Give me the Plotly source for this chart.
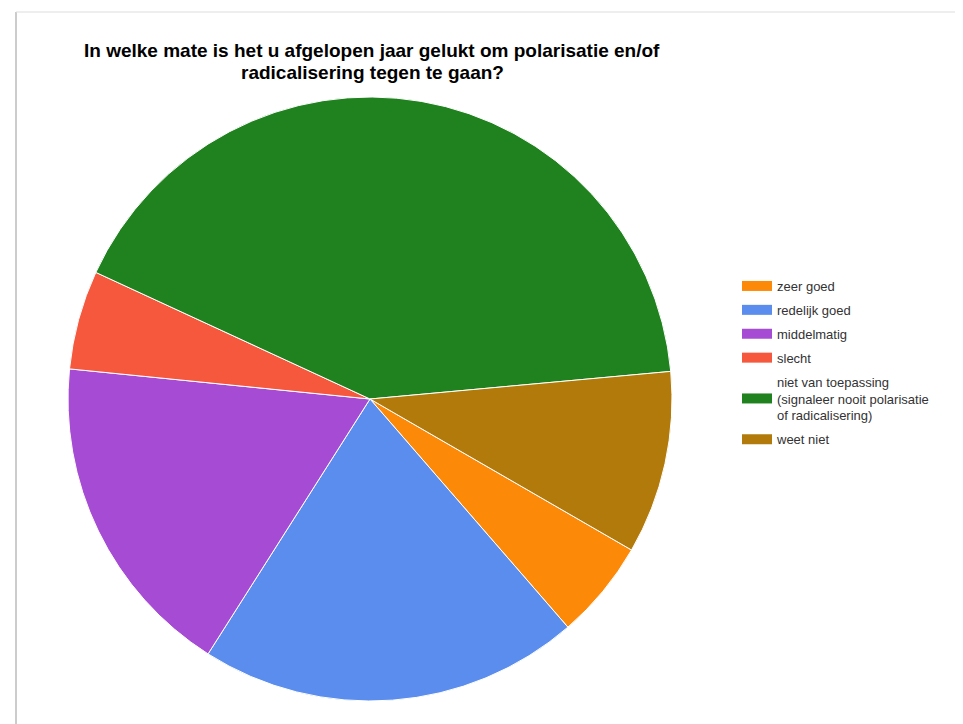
import plotly.graph_objects as go

labels = ["zeer goed", "redelijk goed", "middelmatig", "slecht",
          "niet van toepassing<br>(signaleer nooit polarisatie<br>of radicalisering)", "weet niet"]
values = [5.3, 20.4, 17.6, 5.3, 41.7, 9.8]
colors = ["#fc8a08", "#5a8ded", "#a64cd4", "#f6583e", "#1f821f", "#b17a0a"]
title_lines = ["In welke mate is het u afgelopen jaar gelukt om polarisatie en/of",
               "radicalisering tegen te gaan?"]

W, H = 963, 724
cx, cy, r = 362, 391, 302

fig = go.Figure()
fig.add_trace(go.Pie(
    labels=labels, values=values, sort=False, direction="clockwise",
    rotation=120, textinfo="none", hoverinfo="label+percent", showlegend=False,
    marker=dict(colors=colors, line=dict(color="white", width=1)),
    domain=dict(x=[(cx - r) / W, (cx + r) / W], y=[(H - cy - r) / H, (H - cy + r) / H]),
))
for lab, col in zip(labels, colors):
    fig.add_trace(go.Scatter(x=[None], y=[None], mode="lines", name=lab,
                             line=dict(color=col, width=10), legendgroup=lab,
                             hoverinfo="skip"))

fig.update_layout(
    width=W, height=H, margin=dict(l=0, r=0, t=0, b=0),
    paper_bgcolor="white", plot_bgcolor="white",
    xaxis=dict(visible=False), yaxis=dict(visible=False),
    showlegend=True,
    legend=dict(x=729 / W, y=1 - 263 / H, xanchor="left", yanchor="top",
                font=dict(family="Liberation Sans, Arial", size=13, color="#333"),
                tracegroupgap=4, bgcolor="rgba(0,0,0,0)"),
    annotations=[
        dict(text="<b>%s</b>" % t, x=364 / W, y=1 - yy / H, xref="paper", yref="paper",
             xanchor="center", yanchor="middle", showarrow=False,
             font=dict(family="Liberation Sans, Arial", size=19, color="#000"))
        for t, yy in zip(title_lines, [42, 64])
    ],
    shapes=[
        dict(type="line", xref="paper", yref="paper", x0=8 / W, x1=8 / W, y0=0, y1=1 - 4 / H,
             line=dict(color="#cccccc", width=2)),
        dict(type="line", xref="paper", yref="paper", x0=8 / W, x1=1, y0=1 - 4 / H, y1=1 - 4 / H,
             line=dict(color="#dddddd", width=1)),
    ],
)

fig.write_html("out.html")
